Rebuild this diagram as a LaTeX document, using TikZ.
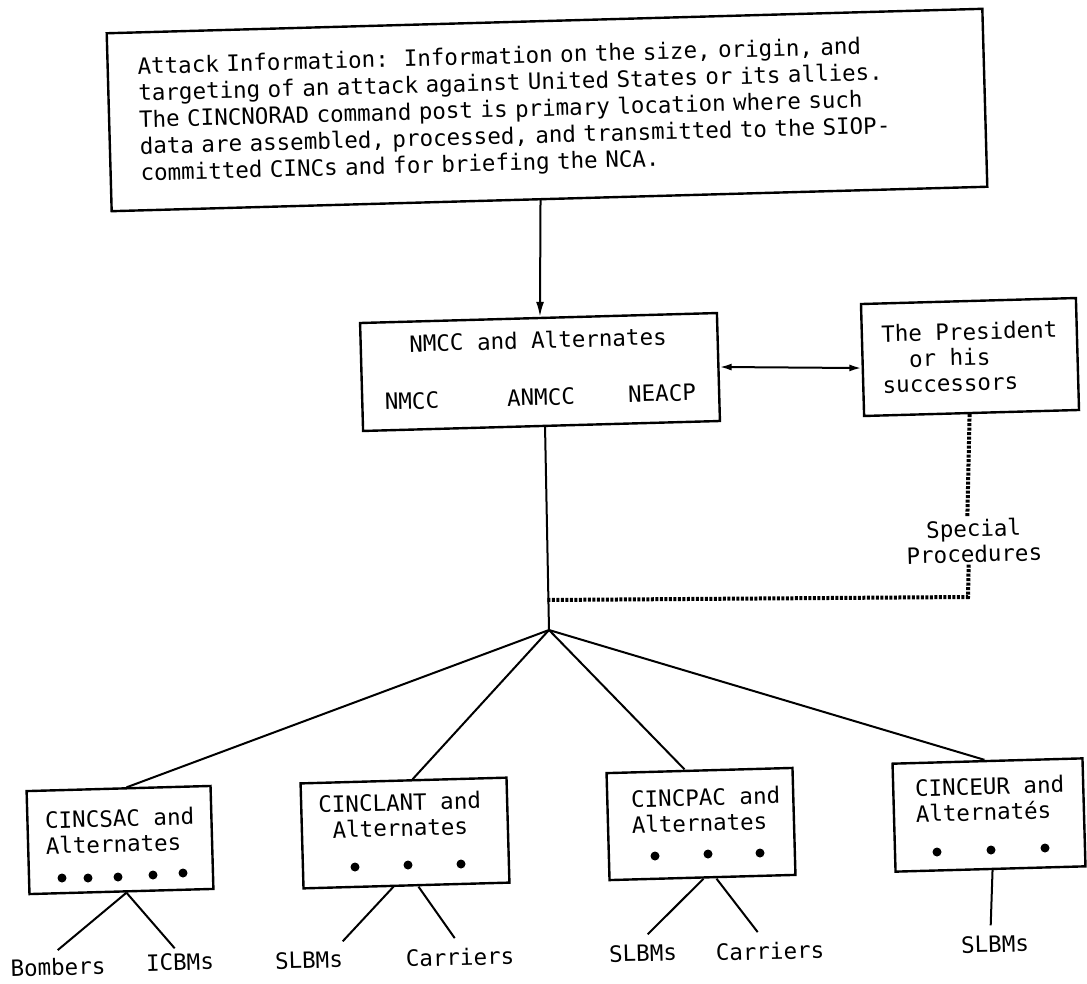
\documentclass[tikz,border=0pt]{standalone}
\usepackage{fontspec}
\setmonofont{DejaVu Sans Mono}
\usetikzlibrary{arrows.meta}
\begin{document}
\begin{tikzpicture}[x=1pt,y=-1pt,
  font=\ttfamily\fontsize{22.5}{25.5}\selectfont\frenchspacing,
  box/.style={draw, line width=2.4pt, rotate=1.6, inner sep=0pt},
  txt/.style={rotate=1.6, inner sep=2pt},
  con/.style={line width=2pt},
  spec/.style={line width=4pt, dash pattern=on 3pt off 1.5pt},
  tip/.style={-{Latex[length=15pt,width=8pt]}},
  dtip/.style={{Latex[length=12pt,width=7pt]}-{Latex[length=12pt,width=7pt]}}]
\useasboundingbox (0,0) rectangle (1087,983);

% top box
\node[box, text width=816pt, inner xsep=30pt, minimum height=178pt, align=left,
  font=\ttfamily\fontsize{22.5}{26.7}\selectfont\frenchspacing] (att) at (547,110)
 {Attack Information:~~Information on the size, origin, and\\
  targeting of an attack against United States or its allies.\\
  The CINCNORAD command post is primary location where such\\
  data are assembled, processed, and transmitted to the SIOP-\\
  committed CINCs and for briefing the NCA.};

% NMCC box
\node[box, minimum width=357pt, minimum height=108pt] (nmcc) at (540,372) {};
\node[txt] (nmccT) at (538,340) {NMCC and Alternates};
\node[txt] (nmccA) at (412,401) {NMCC};
\node[txt] (nmccB) at (541,397) {ANMCC};
\node[txt] (nmccC) at (662,393) {NEACP};

% President box
\node[box, minimum width=215pt, minimum height=112pt, align=left] (pres) at (970,357)
 {The President\\\phantom{Th}or his\\successors};

\node[txt, align=center] (spec) at (974,541) {Special\\Procedures};

% bottom boxes
\node[box, minimum width=184pt, minimum height=103pt] (sac) at (120,840) {};
\node[box, minimum width=206pt, minimum height=105pt] (lant) at (405,833) {};
\node[box, minimum width=186pt, minimum height=107pt] (pac) at (701,824) {};
\node[box, minimum width=190pt, minimum height=108pt] (eur) at (989,815) {};

\node[txt, align=left] (sacT) at (120,831) {CINCSAC and\\Alternates};
\node[txt, align=center] (lantT) at (400,815) {CINCLANT and\\Alternates};
\node[txt, align=left] (pacT) at (706,810) {CINCPAC and\\Alternates};
\node[txt, align=left] (eurT) at (990,799) {CINCEUR and\\Alternatés};

\foreach \x/\y in {62/878,88/878,118/877,153/875,183/873,
                   355/867,408/865,461/864,
                   655/856,708/854,760/853,
                   937/852,991/850,1045/848}
  \fill (\x,\y) circle (4.5pt);

% leaf labels
\node[txt] (bomb) at (58,967) {Bombers};
\node[txt] (icbm) at (180,962) {ICBMs};
\node[txt] (slbmA) at (309,960) {SLBMs};
\node[txt] (carrA) at (460,957) {Carriers};
\node[txt] (slbmB) at (643,953) {SLBMs};
\node[txt] (carrB) at (770,951) {Carriers};
\node[txt] (slbmC) at (995,944) {SLBMs};

\coordinate (apex) at (549,630);
\coordinate (corner) at (968,597);
\coordinate (junc) at (546,600);

% connectors
\draw[con, tip] ([xshift=-9pt]att.south) -- ([xshift=1.5pt]nmcc.north);
\draw[con, dtip] (nmcc.east) -- ([yshift=-8pt]pres.west);
\draw[con] ([xshift=3.5pt]nmcc.south) -- (apex);
\draw[spec] ([xshift=-2pt]pres.south) -- ([xshift=-6pt]spec.north);
\draw[spec] ([xshift=-6pt]spec.south) -- (corner) -- (junc);

\draw[con] (apex) -- ([xshift=8pt]sac.north);
\draw[con] (apex) -- ([xshift=9pt]lant.north);
\draw[con] (apex) -- ([xshift=-15pt]pac.north);
\draw[con] (apex) -- ([xshift=-3pt]eur.north);

\draw[con] ([xshift=5pt]sac.south) -- ([xshift=0pt,yshift=6pt]bomb.north);
\draw[con] ([xshift=5pt]sac.south) -- ([xshift=-5pt,yshift=3pt]icbm.north);
\draw[con] ([xshift=-13pt]lant.south) -- ([xshift=34pt,yshift=8pt]slbmA.north);
\draw[con] ([xshift=12pt]lant.south) -- ([xshift=-5pt,yshift=8pt]carrA.north);
\draw[con] ([xshift=1pt]pac.south) -- ([xshift=5pt,yshift=8pt]slbmB.north);
\draw[con] ([xshift=14pt]pac.south) -- ([xshift=-12pt,yshift=8pt]carrB.north);
\draw[con] ([xshift=2pt]eur.south) -- ([xshift=-4pt,yshift=8pt]slbmC.north);
\end{tikzpicture}
\end{document}
